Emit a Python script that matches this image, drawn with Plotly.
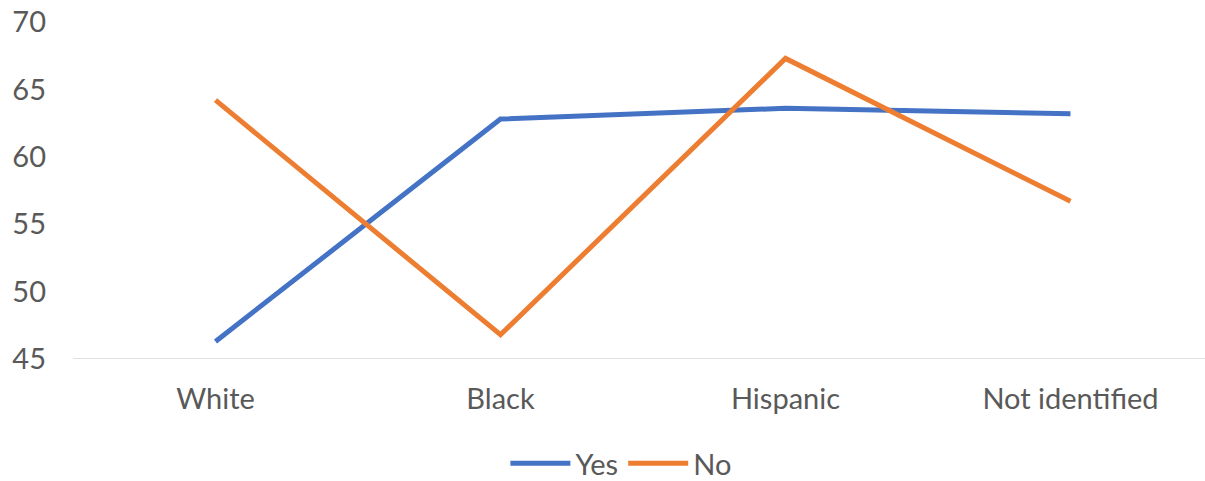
import plotly.graph_objects as go

categories = ["White", "Black", "Hispanic", "Not identified"]
yes_values = [46.3, 62.8, 63.6, 63.2]
no_values = [64.2, 46.8, 67.3, 56.7]
y_ticks = [45, 50, 55, 60, 65, 70]

FONT = "Lato, Open Sans, sans-serif"
TEXT = "#595959"
FS = 29

fig = go.Figure()
fig.add_trace(go.Scatter(x=categories, y=yes_values, name="Yes", mode="lines",
                         line=dict(color="#4472C4", width=5)))
fig.add_trace(go.Scatter(x=categories, y=no_values, name="No", mode="lines",
                         line=dict(color="#ED7D31", width=5)))

fig.update_layout(
    width=1205, height=481,
    margin=dict(l=73, r=0, t=22, b=122, autoexpand=False),
    paper_bgcolor="white", plot_bgcolor="white",
    font=dict(family=FONT, size=FS, color=TEXT),
    showlegend=True,
    legend=dict(orientation="h", x=0.484, xanchor="center", y=-0.31, yanchor="middle",
                font=dict(size=FS, color=TEXT), itemwidth=60, traceorder="normal"),
    xaxis=dict(range=[-0.5, 3.472], showgrid=False, showline=False, zeroline=False,
               ticks="", tickfont=dict(size=FS, color=TEXT), ticklabelstandoff=20,
               automargin=False),
    yaxis=dict(range=[45, 70], tickvals=y_ticks, showgrid=False, zeroline=False,
               showline=False, ticks="", tickfont=dict(size=FS, color=TEXT),
               ticklabelstandoff=26, automargin=False),
)
fig.add_hline(y=45, line=dict(color="#D9D9D9", width=1.5), layer="below")
fig.write_html("out.html")
